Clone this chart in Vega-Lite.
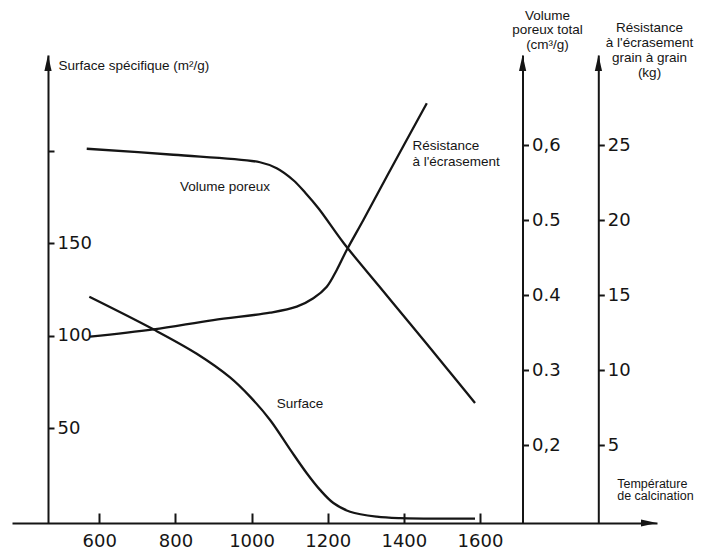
{
  "$schema": "https://vega.github.io/schema/vega-lite/v6.json",
  "width": 645,
  "height": 468,
  "autosize": {"type": "none"},
  "padding": {"left": 12, "top": 55, "right": 59, "bottom": 27},
  "background": "white",
  "config": {
    "view": {"stroke": null},
    "axis": {"grid": false, "domainColor": "#151515", "tickColor": "#151515", "labelColor": "#151515", "titleColor": "#151515", "domainWidth": 2, "tickWidth": 2, "labelFont": "DejaVu Sans", "labelFontSize": 18, "titleFont": "Liberation Sans", "titleFontSize": 13.5, "titleFontWeight": "normal", "labelOverlap": false, "labelBound": false, "labelFlush": false}
  },
  "datasets": {
    "surface": [
      {"T": 573.8, "S": 121.1}, {"T": 742, "S": 103.5}, {"T": 856, "S": 90.3}, {"T": 943.5, "S": 77.5},
      {"T": 996, "S": 67.1}, {"T": 1048.6, "S": 54.5}, {"T": 1101.1, "S": 38.6}, {"T": 1145, "S": 25.7},
      {"T": 1179.9, "S": 16.7}, {"T": 1214.9, "S": 9.6}, {"T": 1258.8, "S": 4.9}, {"T": 1328.9, "S": 2.2},
      {"T": 1390.1, "S": 1.4}, {"T": 1587, "S": 1.2}
    ],
    "volume": [
      {"T": 567, "V": 0.595}, {"T": 794.5, "V": 0.587}, {"T": 1022, "V": 0.577}, {"T": 1066, "V": 0.569},
      {"T": 1109.8, "V": 0.553}, {"T": 1141.6, "V": 0.536}, {"T": 1176.6, "V": 0.515}, {"T": 1242.3, "V": 0.469},
      {"T": 1334.6, "V": 0.412}, {"T": 1416, "V": 0.362}, {"T": 1513, "V": 0.302}, {"T": 1587, "V": 0.256}
    ],
    "resistance": [
      {"T": 575.6, "R": 12.22}, {"T": 741.9, "R": 12.71}, {"T": 899.5, "R": 13.33}, {"T": 1048.6, "R": 13.82},
      {"T": 1118.7, "R": 14.22}, {"T": 1162.3, "R": 14.78}, {"T": 1197.6, "R": 15.55}, {"T": 1223.8, "R": 16.67},
      {"T": 1250, "R": 18}, {"T": 1293.7, "R": 20}, {"T": 1355.2, "R": 22.9}, {"T": 1460.3, "R": 27.78}
    ],
    "labels": [
      {"label": "Volume poreux", "T": 812, "S": 180.3},
      {"label": "Surface", "T": 1066, "S": 63.0},
      {"label": "Résistance", "T": 1422.5, "S": 202.6},
      {"label": "à l'écrasement", "T": 1422.5, "S": 194.1}
    ],
    "uparrows": [
      {"T": 465.3, "S": 251.8}, {"T": 1712, "S": 251.8}, {"T": 1911.2, "S": 251.8}
    ],
    "rightarrow": [
      {"T": 2065, "S": -1.2}
    ]
  },
  "encoding": {
    "x": {
      "field": "T", "type": "quantitative",
      "scale": {"domain": [370.7, 2065], "nice": false, "zero": false},
      "axis": {
        "orient": "bottom", "values": [600, 800, 1000, 1200, 1400, 1600], "format": "d",
        "tickSize": -10, "labelPadding": 19, "labelBaseline": "top",
        "title": ["Température", "de calcination"], "titleAngle": 0,
        "titleX": 604.7, "titleY": -46, "titleAlign": "left", "titleBaseline": "top",
        "titleLineHeight": 12.5, "titleFontSize": 12.5
      }
    }
  },
  "layer": [
    {
      "data": {"name": "surface"},
      "mark": {"type": "line", "interpolate": "catmull-rom", "color": "#151515", "strokeWidth": 2.3},
      "encoding": {
        "y": {
          "field": "S", "type": "quantitative",
          "scale": {"domain": [-1.2, 251.8], "nice": false, "zero": false},
          "axis": {
            "orient": "right", "offset": -609, "values": [50, 100, 150, 200],
            "labelExpr": "datum.value == 200 ? '' : datum.label",
            "tickSize": 6, "labelPadding": 3, "labelAlign": "left", "labelBaseline": "middle",
            "title": "Surface spécifique (m²/g)", "titleAngle": 0,
            "titleX": 10, "titleY": 10, "titleAlign": "left", "titleBaseline": "middle"
          }
        }
      }
    },
    {
      "data": {"name": "volume"},
      "mark": {"type": "line", "interpolate": "catmull-rom", "color": "#151515", "strokeWidth": 2.3},
      "encoding": {
        "y": {
          "field": "V", "type": "quantitative",
          "scale": {"domain": [0.096, 0.72], "nice": false, "zero": false},
          "axis": {
            "orient": "right", "offset": -134.5, "values": [0.2, 0.3, 0.4, 0.5, 0.6],
            "labelExpr": "datum.value == 0.6 ? '0,6' : datum.value == 0.2 ? '0,2' : format(datum.value, '.1f')",
            "tickSize": 6, "labelPadding": 3, "labelAlign": "left", "labelBaseline": "middle",
            "title": ["Volume", "poreux total", "(cm³/g)"], "titleAngle": 0,
            "titleX": 24.5, "titleY": -47, "titleAlign": "center", "titleBaseline": "top",
            "titleLineHeight": 14.5
          }
        }
      }
    },
    {
      "data": {"name": "resistance"},
      "mark": {"type": "line", "interpolate": "catmull-rom", "color": "#151515", "strokeWidth": 2.3},
      "encoding": {
        "y": {
          "field": "R", "type": "quantitative",
          "scale": {"domain": [-0.2, 31], "nice": false, "zero": false},
          "axis": {
            "orient": "right", "offset": -58.7, "values": [5, 10, 15, 20, 25],
            "tickSize": 6, "labelPadding": 3, "labelAlign": "left", "labelBaseline": "middle",
            "title": ["Résistance", "à l'écrasement", "grain à grain", "(kg)"], "titleAngle": 0,
            "titleX": 50.7, "titleY": -35, "titleAlign": "center", "titleBaseline": "top",
            "titleLineHeight": 15
          }
        }
      }
    },
    {
      "data": {"name": "labels"},
      "mark": {"type": "text", "align": "left", "baseline": "middle", "font": "Liberation Sans", "fontSize": 13.5, "color": "#151515"},
      "encoding": {
        "y": {"field": "S", "type": "quantitative", "scale": {"domain": [-1.2, 251.8], "nice": false, "zero": false}, "axis": null},
        "text": {"field": "label"}
      }
    },
    {
      "data": {"name": "uparrows"},
      "mark": {"type": "point", "shape": "M0,0L-0.45,2L0.45,2Z", "size": 256, "filled": true, "color": "#151515", "opacity": 1},
      "encoding": {
        "y": {"field": "S", "type": "quantitative", "scale": {"domain": [-1.2, 251.8], "nice": false, "zero": false}, "axis": null}
      }
    },
    {
      "data": {"name": "rightarrow"},
      "mark": {"type": "point", "shape": "M0,0L-2,-0.45L-2,0.45Z", "size": 256, "filled": true, "color": "#151515", "opacity": 1},
      "encoding": {
        "y": {"field": "S", "type": "quantitative", "scale": {"domain": [-1.2, 251.8], "nice": false, "zero": false}, "axis": null}
      }
    }
  ],
  "resolve": {"scale": {"y": "independent"}, "axis": {"y": "independent"}}
}
